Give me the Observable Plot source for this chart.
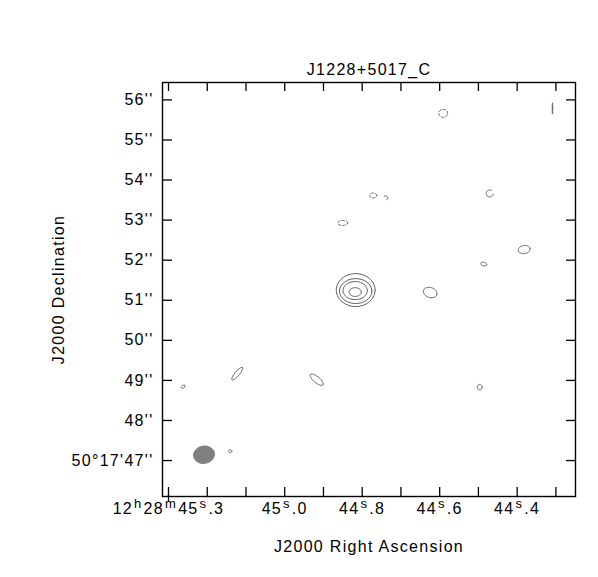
<!DOCTYPE html>
<html><head><meta charset="utf-8">
<script src="https://cdn.jsdelivr.net/npm/d3@7"></script>
<script src="https://cdn.jsdelivr.net/npm/@observablehq/plot@0.6"></script>
<style>
html,body{margin:0;padding:0;background:#fff;}
#chart svg{display:block;}
</style></head><body><div id="chart"></div>
<script>
// ---- texts ----
const chartTitle = "J1228+5017_C";
const xTitle = "J2000 Right Ascension";
const yTitle = "J2000 Declination";

// ---- axes (RA in seconds of 12h28m, Dec in arcsec of +50°17') ----
const raTicks = [45.3, 45.2, 45.1, 45.0, 44.9, 44.8, 44.7, 44.6, 44.5, 44.4, 44.3];
const raLabelValues = [45.3, 45.0, 44.8, 44.6, 44.4];
const raLabelTexts = ["12h28m45s.3", "45s.0", "44s.8", "44s.6", "44s.4"];
const decTicks = [47, 48, 49, 50, 51, 52, 53, 54, 55, 56];
const decLabelTexts = ["50°17'47''", "48''", "49''", "50''", "51''", "52''", "53''", "54''", "55''", "56''"];
const raDomain = [45.3155, 44.2494];
const decDomain = [46.103, 56.434];

// ---- contour pieces (centre RA s, centre Dec ", semi-axes ", angle deg, arc start/end deg, dashed) ----
const cRA    = [44.8168, 44.8168, 44.8181, 44.8181, 44.6245, 44.5909, 44.3088, 44.7716, 44.7406, 44.8503, 44.4709, 44.3818, 44.4864, 45.1227, 44.9174, 45.2621, 44.4967, 45.1407];
const cDec   = [51.254, 51.229, 51.242, 51.204, 51.192, 55.664, 55.788, 53.615, 53.553, 52.928, 53.665, 52.266, 51.904, 49.168, 49.018, 48.844, 48.831, 47.232];
const cMajor = [0.48, 0.40, 0.30, 0.15, 0.173, 0.11, 0.006, 0.087, 0.065, 0.124, 0.087, 0.148, 0.074, 0.20, 0.20, 0.05, 0.06, 0.04];
const cMinor = [0.41, 0.31, 0.225, 0.11, 0.125, 0.10, 0.14, 0.06, 0.05, 0.062, 0.087, 0.10, 0.045, 0.055, 0.075, 0.035, 0.07, 0.035];
const cAngle = [0, 0, 0, 0, -20, 0, 0, 0, 0, 0, 0, 10, -15, 50, -40, 30, 0, 0];
const cStart = [0, 0, 0, 0, 0, 0, 0, 0, -60, 0, 60, 0, 0, 0, 0, 0, 0, 0];
const cEnd   = [360, 360, 360, 360, 360, 360, 360, 360, 110, 360, 350, 360, 360, 360, 360, 360, 360, 360];
const cDashed= [false, false, false, false, false, true, false, true, false, true, false, false, false, false, false, false, false, false];

// ---- restoring beam ----
const beamRA = [45.2084];
const beamDec = [47.145];
const beamMajor = [0.26];
const beamMinor = [0.217];
const beamAngle = [10];

// ---- build outline points for the line marks ----
const cosDec = Math.cos((50 + 17 / 60 + 51 / 3600) * Math.PI / 180);
function outline(id, ra, dec, a, b, ang, s, e) {
  const pts = [];
  const th = ang * Math.PI / 180;
  const n = 72;
  for (let k = 0; k <= n; k++) {
    const t = (s + (e - s) * k / n) * Math.PI / 180;
    const ex = a * Math.cos(t), ey = b * Math.sin(t);
    const dx = ex * Math.cos(th) - ey * Math.sin(th);
    const dy = ex * Math.sin(th) + ey * Math.cos(th);
    pts.push({id, ra: ra - dx / (15 * cosDec), dec: dec + dy});
  }
  return pts;
}
const solidPts = [], dashedPts = [], beamPts = [];
cRA.forEach((ra, i) => {
  const p = outline(i, ra, cDec[i], cMajor[i], cMinor[i], cAngle[i], cStart[i], cEnd[i]);
  (cDashed[i] ? dashedPts : solidPts).push(...p);
});
beamRA.forEach((ra, i) => beamPts.push(...outline(i, ra, beamDec[i], beamMajor[i], beamMinor[i], beamAngle[i], 0, 360)));

const W = 598, H = 577, mL = 162, mR = 23, mT = 82, mB = 81;
const fh = H - mT - mB, fw = W - mL - mR;

const chart = Plot.plot({
  width: W, height: H,
  marginLeft: mL, marginRight: mR, marginTop: mT, marginBottom: mB,
  style: "font-family:'Liberation Sans',Arial,Helvetica,sans-serif;font-size:16px;letter-spacing:1.3px;background:#fff;color:#000;",
  x: {type: "linear", domain: raDomain, axis: null},
  y: {type: "linear", domain: decDomain, axis: null},
  marks: [
    Plot.line(beamPts, {x: "ra", y: "dec", z: "id", fill: "#808080", stroke: "#808080", strokeWidth: 1, curve: "linear-closed"}),
    Plot.line(solidPts, {x: "ra", y: "dec", z: "id", stroke: "#5a5a5a", strokeWidth: 1}),
    Plot.line(dashedPts, {x: "ra", y: "dec", z: "id", stroke: "#5a5a5a", strokeWidth: 1, strokeDasharray: "2.5,2"}),
    Plot.frame({stroke: "#000", strokeWidth: 1.4}),
    Plot.tickX(raTicks, {x: d => d, insetTop: fh - 9, stroke: "#000", strokeWidth: 1.3}),
    Plot.tickX(raTicks, {x: d => d, insetBottom: fh - 9, stroke: "#000", strokeWidth: 1.3}),
    Plot.tickX([raTicks[0]], {x: d => d, insetTop: fh - 2, insetBottom: -5, stroke: "#000", strokeWidth: 1.3}),
    Plot.tickY(decTicks, {y: d => d, insetRight: fw - 10, stroke: "#000", strokeWidth: 1.3}),
    Plot.tickY(decTicks, {y: d => d, insetLeft: fw - 9, stroke: "#000", strokeWidth: 1.3}),
    Plot.axisX(raLabelValues, {anchor: "bottom", tickSize: 0, tickPadding: 6, label: null,
      tickFormat: d => raLabelTexts[raLabelValues.indexOf(d)]}),
    Plot.axisY(decTicks, {anchor: "left", tickSize: 0, tickPadding: 9, label: null,
      tickFormat: d => decLabelTexts[decTicks.indexOf(d)]}),
    Plot.text([chartTitle], {frameAnchor: "top", textAnchor: "middle", lineAnchor: "middle", dy: -13, text: d => d, fontSize: 16}),
    Plot.text([xTitle], {frameAnchor: "bottom", textAnchor: "middle", lineAnchor: "middle", dy: 50, text: d => d, fontSize: 16}),
    Plot.text([yTitle], {frameAnchor: "left", textAnchor: "middle", lineAnchor: "middle", dx: -104, rotate: -90, text: d => d, fontSize: 16})
  ]
});
document.getElementById("chart").appendChild(chart);

// superscript the h / m / s unit letters of the RA labels
d3.select(chart).selectAll('g[aria-label="x-axis tick label"] text').each(function() {
  const el = d3.select(this);
  const str = el.text();
  el.text(null);
  const parts = str.split(/([hms])/).filter(p => p !== "");
  let raised = false;
  parts.forEach(p => {
    if (/^[hms]$/.test(p)) {
      el.append("tspan").attr("dy", raised ? 0 : -6).attr("font-size", 13).attr("dx", 1).text(p);
      raised = true;
    } else {
      const t = el.append("tspan").text(p);
      if (raised) { t.attr("dy", 6).attr("dx", 1); raised = false; }
    }
  });
});
</script></body></html>
